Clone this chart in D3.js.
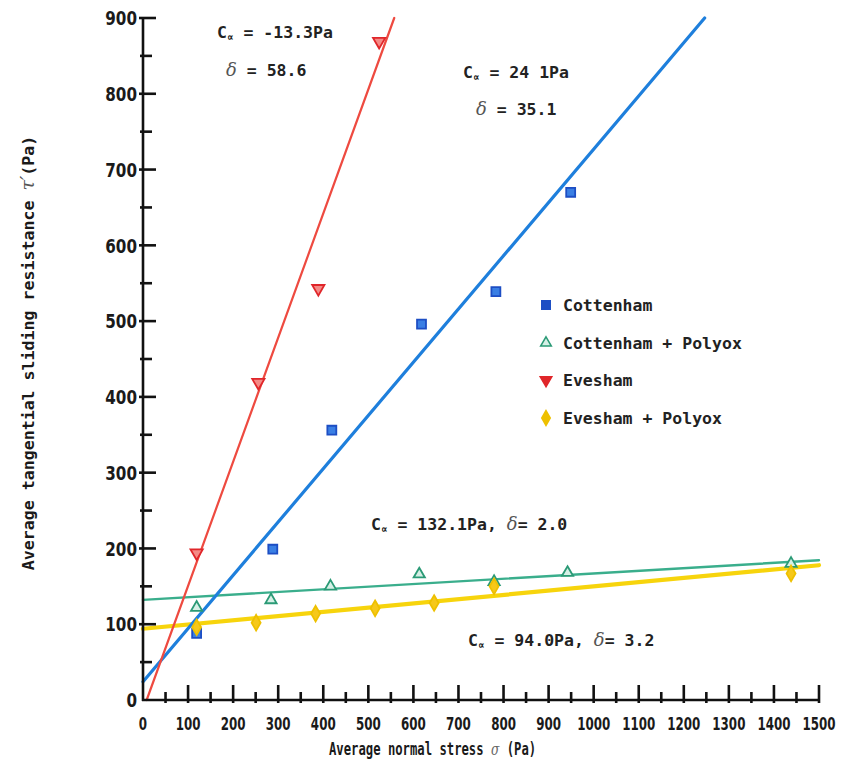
<!DOCTYPE html>
<html>
<head>
<meta charset="utf-8">
<script src="https://cdn.jsdelivr.net/npm/d3@7"></script>
<style>
  html, body { margin: 0; padding: 0; background: #fff; }
  svg { display: block; }
</style>
</head>
<body>
<div id="chart"></div>
<script>
// Shear-box results: tangential sliding resistance vs normal stress
const xTickValues = [0,100,200,300,400,500,600,700,800,900,1000,1100,1200,1300,1400,1500];
const yTickValues = [0,100,200,300,400,500,600,700,800,900];

const cottenhamX = [119, 288, 419, 618, 783, 949];
const cottenhamY = [88, 199, 356, 496, 539, 670];

const cottPolyoxX = [119, 284, 416, 613, 779, 942, 1438];
const cottPolyoxY = [122, 132, 150, 166, 156, 168, 180];

const eveshamX = [119, 256, 389, 524];
const eveshamY = [194, 419, 543, 869];

const evePolyoxX = [119, 251, 383, 515, 646, 779, 1438];
const evePolyoxY = [96, 102, 114, 121, 128, 150, 167];

// Fitted lines: intercept C (Pa) and friction angle (degrees)
const fitIntercept = [24.1, 132.1, -13.3, 94.0];
const fitAngle = [35.1, 2.0, 58.6, 3.2];

const seriesNames = ["Cottenham", "Cottenham + Polyox", "Evesham", "Evesham + Polyox"];

const W = 845, H = 765;
const svg = d3.select("#chart").append("svg").attr("width", W).attr("height", H);

const x = d3.scaleLinear().domain([0, 1500]).range([143, 819]);
const y = d3.scaleLinear().domain([0, 900]).range([700, 18]);

const numFont = "'DejaVu Sans', sans-serif";
const monoFont = "'DejaVu Sans Mono', 'Liberation Mono', monospace";
const handFont = "'DejaVu Serif', serif";

const styles = [
  { line: "#1e7fdc", lw: 3.2, sym: d3.symbolSquare, size: 80, rot: 0, fill: "#3a7fe4", stroke: "#1d4ec4" },
  { line: "#3aae8c", lw: 2.4, sym: d3.symbolTriangle, size: 55, rot: 0, fill: "#d6f0e6", stroke: "#2b9a76" },
  { line: "#ee4a40", lw: 2.2, sym: d3.symbolTriangle, size: 65, rot: 180, fill: "#f48a86", stroke: "#e0262a" },
  { line: "#f7d40c", lw: 4.2, sym: d3.symbolDiamond, size: 70, rot: 0, fill: "#f6c81a", stroke: "#eec000" }
];

const series = [
  cottenhamX.map((v, i) => [v, cottenhamY[i]]),
  cottPolyoxX.map((v, i) => [v, cottPolyoxY[i]]),
  eveshamX.map((v, i) => [v, eveshamY[i]]),
  evePolyoxX.map((v, i) => [v, evePolyoxY[i]])
];

// Fit line end points clipped to the 0..1500 / 0..900 box
function fitSegment(c, deg) {
  const m = Math.tan(deg * Math.PI / 180);
  let x0 = 0, x1 = 1500;
  if (c < 0) x0 = -c / m;
  if (c + m * x1 > 900) x1 = (900 - c) / m;
  return [[x0, c + m * x0], [x1, c + m * x1]];
}

const lineGen = d3.line().x(d => x(d[0])).y(d => y(d[1]));
const fitOrder = [1, 3, 0, 2];
fitOrder.forEach(i => {
  svg.append("path")
    .attr("d", lineGen(fitSegment(fitIntercept[i], fitAngle[i])))
    .attr("fill", "none")
    .attr("stroke", styles[i].line)
    .attr("stroke-width", styles[i].lw)
    .attr("stroke-linecap", "round");
});

// Axes
const axisG = svg.append("g").attr("stroke", "#111").attr("stroke-width", 2.6);
axisG.append("line").attr("x1", x(0)).attr("x2", x(0)).attr("y1", y(0) + 1).attr("y2", y(900));
axisG.append("line").attr("x1", x(0) - 1).attr("x2", x(1500)).attr("y1", y(0)).attr("y2", y(0));

// y ticks: majors every 100, minors every 50
d3.range(50, 901, 50).forEach(v => {
  const major = v % 100 === 0;
  axisG.append("line")
    .attr("x1", x(0) - (major ? 4 : 3)).attr("x2", x(0) + (major ? 13 : 9))
    .attr("y1", y(v)).attr("y2", y(v));
});
// x ticks
d3.range(50, 1501, 50).forEach(v => {
  const major = v % 100 === 0;
  axisG.append("line")
    .attr("x1", x(v)).attr("x2", x(v))
    .attr("y1", y(0) + 3).attr("y2", y(0) - (major ? 15 : 8));
});

svg.append("g").selectAll("text").data(yTickValues).join("text")
  .attr("transform", d => `translate(137,${y(d)}) scale(0.76,1)`)
  .attr("dy", "0.36em")
  .attr("text-anchor", "end")
  .attr("font-family", numFont).attr("font-weight", "bold").attr("font-size", 20)
  .attr("fill", "#1a1a1a")
  .text(d => d);

svg.append("g").selectAll("text").data(xTickValues).join("text")
  .attr("transform", d => `translate(${x(d)},730) scale(0.7,1)`)
  .attr("text-anchor", "middle")
  .attr("font-family", numFont).attr("font-weight", "bold").attr("font-size", 17)
  .attr("fill", "#1a1a1a")
  .text(d => d);

// Data markers
series.forEach((pts, i) => {
  const s = styles[i];
  svg.append("g").selectAll("path").data(pts).join("path")
    .attr("transform", d => `translate(${x(d[0])},${y(d[1])}) rotate(${s.rot})`)
    .attr("d", d3.symbol().type(s.sym).size(s.size))
    .attr("fill", s.fill)
    .attr("stroke", s.stroke)
    .attr("stroke-width", 1.8);
});

// Axis titles
const yTitle = svg.append("text")
  .attr("transform", "translate(34,353) rotate(-90)")
  .attr("text-anchor", "middle")
  .attr("font-family", monoFont).attr("font-weight", "bold").attr("font-size", 16.6)
  .attr("fill", "#1a1a1a");
yTitle.append("tspan").text("Average tangential sliding resistance ");
yTitle.append("tspan").attr("font-family", handFont).attr("font-style", "italic")
  .attr("font-weight", "normal").attr("fill", "#555").attr("font-size", 19).text("τ′");
yTitle.append("tspan").text("(Pa)");

const xTitle = svg.append("text")
  .attr("transform", "translate(329,755) scale(0.72,1)")
  .attr("font-family", monoFont).attr("font-weight", "bold").attr("font-size", 17)
  .attr("fill", "#1a1a1a");
xTitle.append("tspan").text("Average normal stress ");
xTitle.append("tspan").attr("font-family", handFont).attr("font-style", "italic")
  .attr("font-weight", "normal").attr("fill", "#666").text("σ");
xTitle.append("tspan").text(" (Pa)");

// Fit annotations
function cLabel(sel, value) {
  sel.append("tspan").text("C");
  sel.append("tspan").attr("font-size", 11).attr("dy", 3).text("∝");
  sel.append("tspan").attr("dy", -3).text(" = " + value);
}
function deltaSpan(sel) {
  sel.append("tspan").attr("font-family", handFont).attr("font-style", "italic")
    .attr("font-weight", "normal").attr("fill", "#555").attr("font-size", 18).text("δ");
}
function annot(xp, yp) {
  return svg.append("text").attr("x", xp).attr("y", yp)
    .attr("font-family", monoFont).attr("font-weight", "bold").attr("font-size", 16.5)
    .attr("fill", "#222");
}

cLabel(annot(217, 38), fitIntercept[2].toFixed(1) + "Pa");
{
  const t = annot(226, 76);
  deltaSpan(t);
  t.append("tspan").text(" =  " + fitAngle[2].toFixed(1));
}
cLabel(annot(463, 78), "24 1Pa");
{
  const t = annot(476, 115);
  deltaSpan(t);
  t.append("tspan").text(" = " + fitAngle[0].toFixed(1));
}
{
  const t = annot(371, 530);
  cLabel(t, fitIntercept[1].toFixed(1) + "Pa, ");
  deltaSpan(t);
  t.append("tspan").text("= " + fitAngle[1].toFixed(1));
}
{
  const t = annot(468, 646);
  cLabel(t, fitIntercept[3].toFixed(1) + "Pa, ");
  deltaSpan(t);
  t.append("tspan").text("= " + fitAngle[3].toFixed(1));
}

// Legend
const legendY = [305, 343, 380, 418];
const legend = svg.append("g");
seriesNames.forEach((name, i) => {
  const s = styles[i];
  legend.append("path")
    .attr("transform", `translate(546,${legendY[i]}) rotate(${s.rot})`)
    .attr("d", d3.symbol().type(s.sym).size(s.size * 0.9))
    .attr("fill", i === 1 ? s.fill : s.stroke)
    .attr("stroke", s.stroke)
    .attr("stroke-width", 1.5);
  legend.append("text")
    .attr("x", 563).attr("y", legendY[i]).attr("dy", "0.36em")
    .attr("font-family", monoFont).attr("font-weight", "bold").attr("font-size", 16.5)
    .attr("fill", "#222")
    .text(name);
});
</script>
</body>
</html>
